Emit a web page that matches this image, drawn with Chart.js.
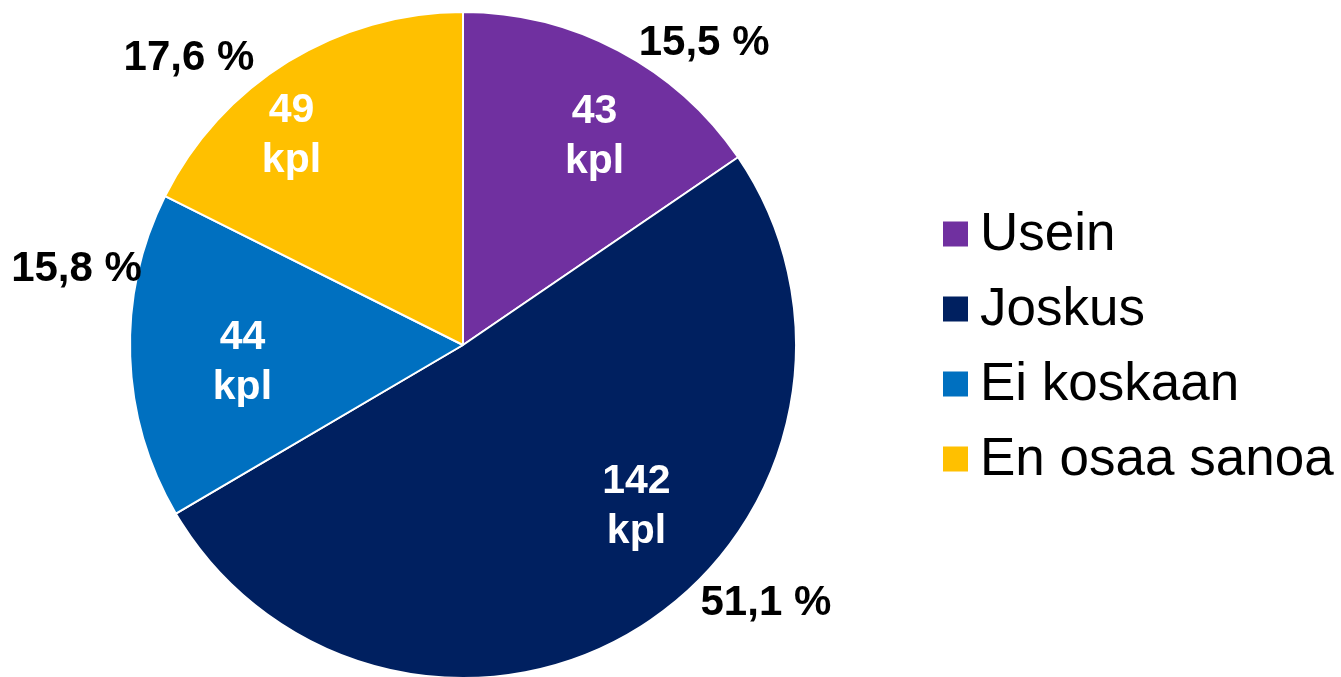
<!DOCTYPE html>
<html>
<head>
<meta charset="utf-8">
<script src="https://cdn.jsdelivr.net/npm/chart.js@4/dist/chart.umd.min.js"></script>
<style>
  html, body { margin: 0; padding: 0; background: #ffffff; overflow: hidden; }
  #wrap { position: relative; width: 1341px; height: 680px; }
</style>
</head>
<body>
<div id="wrap"><canvas id="c"></canvas></div>
<script>
// ---- data ----
const categories = ["Usein", "Joskus", "Ei koskaan", "En osaa sanoa"];
const counts = [43, 142, 44, 49];
const percentLabels = ["15,5 %", "51,1 %", "15,8 %", "17,6 %"];
const countUnit = "kpl";

// ---- style ----
const colors = ["#7030A0", "#002060", "#0070C0", "#FFC000"];
const FONT = "'Liberation Sans', Arial, sans-serif";
// label placement relative to each slice's mid-angle (deg shift, radius factor)
const innerShift = [4.2, -15, -2.1, -7.3];
const innerRad = [0.745, 0.708, 0.664, 0.818];
const outerShift = [10.7, -17.3, 13.1, -11.9];
const outerRad = [1.162, 1.193, 1.183, 1.193];

const labelPlugin = {
  id: 'labels',
  afterDatasetsDraw(chart) {
    const ctx = chart.ctx;
    const meta = chart.getDatasetMeta(0);
    ctx.save();
    ctx.textAlign = 'center';
    ctx.textBaseline = 'middle';
    meta.data.forEach((arc, i) => {
      const p = arc.getProps(['x', 'y', 'startAngle', 'endAngle', 'outerRadius'], true);
      const mid = (p.startAngle + p.endAngle) / 2;
      // inner count label
      let a = mid + innerShift[i] * Math.PI / 180;
      let r = p.outerRadius * innerRad[i];
      let cx = p.x + Math.cos(a) * r, cy = p.y + Math.sin(a) * r + 2;
      ctx.font = "bold 41px " + FONT;
      ctx.fillStyle = '#ffffff';
      ctx.fillText(String(counts[i]), cx, cy - 25);
      ctx.fillText(countUnit, cx, cy + 25);
      // outer percent label
      a = mid + outerShift[i] * Math.PI / 180;
      r = p.outerRadius * outerRad[i];
      cx = p.x + Math.cos(a) * r; cy = p.y + Math.sin(a) * r + 1;
      ctx.font = "bold 42px " + FONT;
      ctx.fillStyle = '#000000';
      ctx.fillText(percentLabels[i], cx, cy);
    });
    ctx.restore();
  },
  afterDraw(chart) {
    const ctx = chart.ctx;
    ctx.save();
    ctx.font = "53px " + FONT;
    ctx.textBaseline = 'middle';
    ctx.textAlign = 'left';
    categories.forEach((name, i) => {
      const cy = 234 + i * 75;
      ctx.fillStyle = colors[i];
      ctx.fillRect(943, cy - 12.5, 25, 25);
      ctx.fillStyle = '#000000';
      ctx.fillText(name, 980, cy + 1);
    });
    ctx.restore();
  }
};

new Chart(document.getElementById('c'), {
  type: 'pie',
  data: {
    labels: categories,
    datasets: [{
      data: counts,
      backgroundColor: colors,
      borderColor: '#ffffff',
      borderWidth: 2,
      hoverOffset: 0
    }]
  },
  options: {
    responsive: true,
    maintainAspectRatio: false,
    animation: false,
    events: [],
    layout: { padding: { left: 129, right: 544, top: 11, bottom: 1 } },
    plugins: {
      legend: { display: false },
      tooltip: { enabled: false }
    }
  },
  plugins: [labelPlugin]
});
</script>
</body>
</html>
